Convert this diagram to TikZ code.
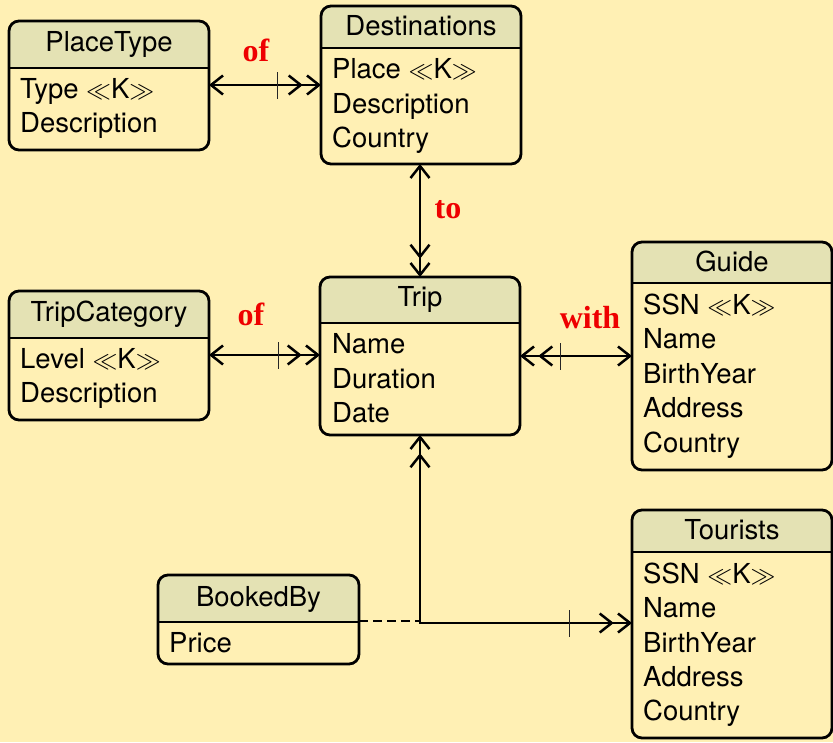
\documentclass[tikz,border=0pt]{standalone}
\usepackage{fontspec}
\setsansfont{TeX Gyre Heros}
\newfontfamily\rolefont{Liberation Serif}
\usetikzlibrary{arrows.meta,fit}

\definecolor{paper}{RGB}{255,240,180}
\definecolor{headfill}{RGB}{228,226,180}
\definecolor{rolered}{RGB}{238,0,0}

\newcommand\keymark{$\ll$K$\gg$}

\tikzset{
  x=1pt, y=-1pt,
  ebox/.style={draw, line width=2.8pt, rounded corners=10pt, inner sep=0pt, outer sep=0pt},
  rule/.style={line width=2.8pt},
  titletext/.style={font=\sffamily\fontsize{27.5}{33}\selectfont, anchor=base, inner sep=0pt},
  attr/.style={font=\sffamily\fontsize{27.5}{33}\selectfont, anchor=base west, inner sep=0pt},
  conn/.style={line width=2.5pt},
  dashconn/.style={line width=2.5pt, dash pattern=on 9pt off 5pt},
  tickmark/.style={line width=1pt, draw=black!85},
  rolelabel/.style={font=\rolefont\bfseries\fontsize{32}{32}\selectfont, text=rolered, inner sep=0pt},
  onebarb/.tip={Straight Barb[length=12pt,width=19pt]},
  twobarb/.tip={Straight Barb[length=12pt,width=19pt,sep=3pt] Straight Barb[length=12pt,width=19pt,sep=0pt]},
}

% entity box: name, left, top, right, bottom, header rule, title, title baseline
\newcommand\erentity[8]{%
  \begin{scope}
    \clip (#2,#3) rectangle (#4,#6);
    \fill[headfill, rounded corners=10pt] (#2,#3) rectangle (#4,#5);
  \end{scope}
  \node[ebox, fit={(#2,#3) (#4,#5)}] (#1) {};
  \draw[rule] (#2,#6) -- (#4,#6);
  \node[titletext] (#1-title) at ({(#2+#4)/2},#8) {#7};
}

\begin{document}
\begin{tikzpicture}
  \fill[paper] (0,0) rectangle (833,742);
  \useasboundingbox (0,0) rectangle (833,742);

  % entities
  \erentity{ptype}{9}{21}{209}{150}{68}{PlaceType}{51}
  \node[attr] (ptype-a1) at (20,98) {Type \keymark};
  \node[attr] (ptype-a2) at (20,132) {Description};

  \erentity{dest}{321}{6}{521}{164}{48}{Destinations}{35}
  \node[attr] (dest-a1) at (332,78) {Place \keymark};
  \node[attr] (dest-a2) at (332,113) {Description};
  \node[attr] (dest-a3) at (332,147) {Country};

  \erentity{tcat}{9}{291}{209}{420}{338}{TripCategory}{321}
  \node[attr] (tcat-a1) at (20,368) {Level \keymark};
  \node[attr] (tcat-a2) at (20,402) {Description};

  \erentity{trip}{320}{277}{520}{435}{323}{Trip}{306}
  \node[attr] (trip-a1) at (332,353) {Name};
  \node[attr] (trip-a2) at (332,388) {Duration};
  \node[attr] (trip-a3) at (332,422) {Date};

  \erentity{guide}{632}{242}{832}{470}{283}{Guide}{271}
  \node[attr] (guide-a1) at (643,314) {SSN \keymark};
  \node[attr] (guide-a2) at (643,348) {Name};
  \node[attr] (guide-a3) at (643,383) {BirthYear};
  \node[attr] (guide-a4) at (643,417) {Address};
  \node[attr] (guide-a5) at (643,452) {Country};

  \erentity{tour}{632}{510}{832}{738}{552}{Tourists}{539}
  \node[attr] (tour-a1) at (643,583) {SSN \keymark};
  \node[attr] (tour-a2) at (643,617) {Name};
  \node[attr] (tour-a3) at (643,652) {BirthYear};
  \node[attr] (tour-a4) at (643,686) {Address};
  \node[attr] (tour-a5) at (643,720) {Country};

  \erentity{booked}{158}{575}{359}{664}{622}{BookedBy}{606}
  \node[attr] (booked-a1) at (169,652) {Price};

  % relationships
  \draw[conn, {onebarb}-{twobarb}] (ptype.east |- 0,85) -- (dest.west |- 0,85);
  \draw[tickmark] (277,72) -- (277,99);

  \draw[conn, {onebarb}-{twobarb}] (dest.south -| 420,0) -- (trip.north -| 420,0);

  \draw[conn, {onebarb}-{twobarb}] (tcat.east |- 0,355) -- (trip.west |- 0,355);
  \draw[tickmark] (278,342) -- (278,369);

  \draw[conn, {twobarb}-{onebarb}] (trip.east |- 0,356) -- (guide.west |- 0,356);
  \draw[tickmark] (560,343) -- (560,370);

  \coordinate (bend) at (420,623);
  \draw[conn, {twobarb}-{twobarb}] (trip.south -| bend) -- (bend) -- (tour.west |- bend);
  \draw[tickmark] (569,610) -- (569,637);
  \draw[dashconn] (booked.east |- 0,621) -- (bend |- 0,621);

  % role labels
  \node[rolelabel] (lab-of1) at (256,50) {of};
  \node[rolelabel] (lab-to) at (448,210) {to};
  \node[rolelabel] (lab-of2) at (251,314) {of};
  \node[rolelabel] (lab-with) at (590,318) {with};
\end{tikzpicture}
\end{document}
